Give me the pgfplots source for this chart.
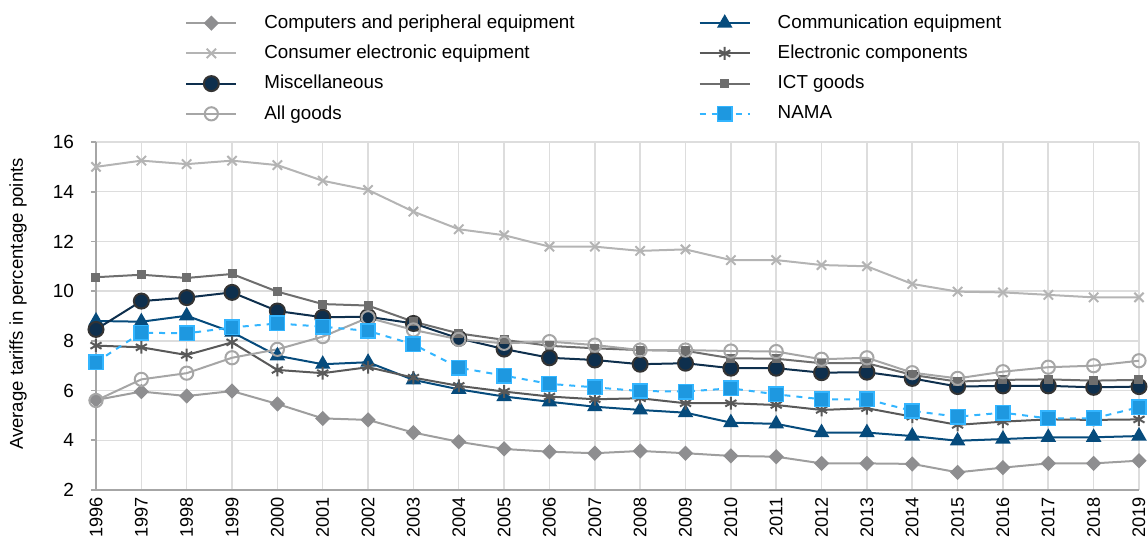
\documentclass[border=0pt]{standalone}
\usepackage{pgfplots}
\pgfplotsset{compat=1.18}
\usepackage{pgfplotstable}
\usepackage{fontspec}
\setmainfont{Liberation Sans}
\definecolor{ccomp}{HTML}{8E8E90}
\definecolor{ccons}{HTML}{B4B4B4}
\definecolor{cmisc}{HTML}{0E2F4D}
\definecolor{callg}{HTML}{A6A6A6}
\definecolor{ccomm}{HTML}{064B7C}
\definecolor{celec}{HTML}{595959}
\definecolor{cict}{HTML}{6E6E6E}
\definecolor{cnamaf}{HTML}{1E98E0}
\definecolor{cnamal}{HTML}{33B5FF}
\definecolor{cgrid}{HTML}{DDDDDD}
\definecolor{caxis}{HTML}{A6A6A6}

\pgfplotstableread{
year comp comm cons elec misc ict allg nama
1996 5.62 8.80 15.00 7.81 8.46 10.56 5.60 7.14
1997 5.96 8.77 15.25 7.74 9.60 10.66 6.45 8.33
1998 5.78 9.01 15.11 7.43 9.74 10.53 6.70 8.30
1999 5.98 8.35 15.25 7.94 9.95 10.69 7.32 8.54
2000 5.46 7.40 15.07 6.83 9.20 9.98 7.66 8.70
2001 4.88 7.06 14.44 6.70 8.95 9.48 8.17 8.57
2002 4.82 7.14 14.07 6.94 8.97 9.42 8.93 8.40
2003 4.31 6.43 13.20 6.52 8.70 8.77 8.44 7.86
2004 3.94 6.05 12.49 6.19 8.10 8.30 8.06 6.92
2005 3.65 5.76 12.25 5.96 7.67 8.04 7.90 6.60
2006 3.54 5.55 11.79 5.76 7.32 7.80 7.97 6.27
2007 3.48 5.35 11.79 5.65 7.23 7.70 7.83 6.13
2008 3.57 5.22 11.62 5.69 7.06 7.63 7.63 5.98
2009 3.48 5.11 11.68 5.49 7.10 7.60 7.63 5.96
2010 3.37 4.71 11.25 5.49 6.90 7.30 7.59 6.09
2011 3.34 4.66 11.25 5.42 6.90 7.28 7.57 5.85
2012 3.07 4.31 11.05 5.22 6.72 7.10 7.26 5.65
2013 3.07 4.31 11.00 5.29 6.74 7.10 7.32 5.65
2014 3.05 4.17 10.29 4.95 6.49 6.63 6.72 5.18
2015 2.71 3.98 9.98 4.62 6.16 6.36 6.49 4.95
2016 2.90 4.05 9.95 4.75 6.19 6.43 6.76 5.11
2017 3.07 4.12 9.85 4.84 6.19 6.45 6.94 4.88
2018 3.07 4.12 9.75 4.82 6.13 6.40 7.00 4.88
2019 3.18 4.17 9.75 4.84 6.16 6.43 7.20 5.33
}\data

\begin{document}
\begin{tikzpicture}
\begin{axis}[
  scale only axis,
  width=521.5pt, height=174pt,
  xmin=1996, xmax=2019, ymin=2, ymax=16,
  xtick={1996,...,2019}, ytick={2,4,...,16},
  axis lines=left,
  axis line style={-, draw=caxis, line width=0.8pt},
  grid=major,
  major grid style={draw=cgrid, line width=0.75pt},
  x tick label style={rotate=90, anchor=east, font=\fontsize{9.1}{11}\selectfont, /pgf/number format/1000 sep={}, xshift=1pt, inner sep=2pt},
  y tick label style={font=\fontsize{9.5}{11}\selectfont, xshift=-5pt},
  /pgf/number format/assume math mode=true,
  xtick style={draw=none},
  ytick style={draw=caxis, line width=0.8pt},
  tick align=outside,
  major tick length=2.5pt,
  ylabel={Average tariffs in percentage points},
  ylabel style={font=\fontsize{9.3}{11}\selectfont, at={(rel axis cs:0,0.5)}, anchor=center, yshift=39pt, xshift=6pt},
  legend columns=2,
  legend cell align=left,
  legend style={draw=none, fill=none, inner sep=0pt, at={(0.0853,1.378)}, anchor=north west,
    font=\fontsize{9.4}{11}\selectfont, row sep=2.8pt,
    /tikz/every odd column/.append style={column sep=11.5pt},
    /tikz/every even column/.append style={column sep=60pt}},
  legend image code/.code={\draw[mark repeat=2, mark phase=2] plot coordinates {(0pt,0pt) (12.5pt,0pt) (25pt,0pt)};},
  every axis plot/.append style={line width=1pt},
]
\addplot[color=callg!95!black, mark=square*, mark size=2.2pt, mark options={rotate=45, fill=ccomp, draw=ccomp}] table[x=year,y=comp] {\data};
\addlegendentry{Computers and peripheral equipment}
\addplot[color=ccomm, mark=triangle*, mark size=3.5pt, mark options={fill=ccomm, draw=ccomm}] table[x=year,y=comm] {\data};
\addlegendentry{Communication equipment}
\addplot[color=ccons, mark=x, mark size=3.3pt, mark options={line width=1pt}] table[x=year,y=cons] {\data};
\addlegendentry{Consumer electronic equipment}
\addplot[color=celec, mark=asterisk, mark size=3.2pt, mark options={line width=1pt}] table[x=year,y=elec] {\data};
\addlegendentry{Electronic components}
\addplot[color=cmisc, mark=*, mark size=3.75pt, mark options={fill=cmisc, draw=black!80}] table[x=year,y=misc] {\data};
\addlegendentry{Miscellaneous}
\addplot[color=cict, mark=square*, mark size=1.75pt, mark options={fill=cict}] table[x=year,y=ict] {\data};
\addlegendentry{ICT goods}
\addplot[color=callg, mark=o, mark size=3.3pt, mark options={line width=1pt}] table[x=year,y=allg] {\data};
\addlegendentry{All goods}
\addplot[color=cnamal, dashed, mark=square*, mark size=3.6pt, mark options={solid, fill=cnamaf, draw=cnamal, line width=0.8pt}] table[x=year,y=nama] {\data};
\addlegendentry{NAMA}
\end{axis}
\pgfresetboundingbox
\path (-48pt,-25.5pt) rectangle (526pt,245pt);
\end{tikzpicture}
\end{document}
